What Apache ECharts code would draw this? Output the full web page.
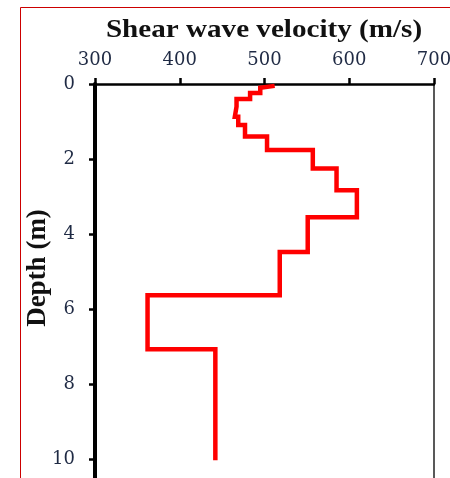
<!DOCTYPE html>
<html>
<head>
<meta charset="utf-8">
<script src="https://cdn.jsdelivr.net/npm/echarts@6/dist/echarts.min.js"></script>
<style>
  html, body { margin: 0; padding: 0; background: #fff; }
  #chart { width: 450px; height: 478px; }
</style>
</head>
<body>
<div id="chart"></div>
<script>
// shear wave velocity profile (m/s) against depth (m), step by step
const velocity = [512, 495, 495, 483, 483, 467, 467, 465, 465, 469, 469, 477, 477, 503, 503,
  557, 557, 585, 585, 609, 609, 551, 551, 518, 518, 362, 362, 442, 442];
const depth = [0.05, 0.1, 0.24, 0.24, 0.4, 0.4, 0.6, 0.6, 0.87, 0.87, 1.09, 1.09, 1.4, 1.4, 1.76,
  1.76, 2.25, 2.25, 2.83, 2.83, 3.55, 3.55, 4.48, 4.48, 5.63, 5.63, 7.07, 7.07, 10.03];
const xTicks = [300, 400, 500, 600, 700];
const yTicks = [0, 2, 4, 6, 8, 10];

const serif = "'Liberation Serif', 'DejaVu Serif', serif";
const wideSerif = "'DejaVu Serif', serif";
const labelColor = '#1f2a44';

let myChart = echarts.init(document.getElementById('chart'));

myChart.setOption({
  animation: false,
  grid: {
    left: 95,
    right: 16,
    top: 84,
    bottom: 0,
    containLabel: false,
    outerBoundsMode: 'none'
  },
  xAxis: {
    type: 'value',
    position: 'top',
    min: xTicks[0],
    max: xTicks[xTicks.length - 1],
    interval: 100,
    axisLine: { lineStyle: { color: '#000', width: 2.5 } },
    axisTick: { length: 6, lineStyle: { color: '#000', width: 2.5 } },
    splitLine: { show: false },
    axisLabel: { margin: 15, fontSize: 18, fontFamily: wideSerif, color: labelColor }
  },
  yAxis: [
    {
      type: 'value',
      inverse: true,
      min: yTicks[0],
      max: 10.5,
      interval: 2,
      axisLine: { show: true, lineStyle: { color: '#000', width: 4 } },
      axisTick: { show: true, length: 6, lineStyle: { color: '#000', width: 2.5 } },
      splitLine: { show: false },
      axisLabel: {
        margin: 20, fontSize: 18, fontFamily: wideSerif, color: labelColor,
        showMaxLabel: false
      }
    },
    {
      // right frame line only
      type: 'value',
      position: 'right',
      inverse: true,
      min: 0,
      max: 10.5,
      axisLine: { show: true, lineStyle: { color: '#222', width: 1.5 } },
      axisTick: { show: false },
      axisLabel: { show: false },
      splitLine: { show: false }
    }
  ],
  graphic: [
    {
      type: 'rect',
      shape: { x: 20.5, y: 7.5, width: 600, height: 600 },
      style: { fill: 'none', stroke: '#cc0000', lineWidth: 1 },
      silent: true
    },
    {
      type: 'text',
      x: 264,
      y: 30,
      scaleX: 1.12,
      style: {
        text: 'Shear wave velocity (m/s)',
        fontSize: 26,
        fontWeight: 'bold',
        fontFamily: serif,
        fill: '#111',
        align: 'center',
        verticalAlign: 'middle'
      }
    },
    {
      type: 'text',
      x: 38,
      y: 268,
      rotation: Math.PI / 2,
      style: {
        text: 'Depth (m)',
        fontSize: 27,
        fontWeight: 'bold',
        fontFamily: serif,
        fill: '#111',
        align: 'center',
        verticalAlign: 'middle'
      }
    }
  ],
  series: [
    {
      type: 'line',
      yAxisIndex: 0,
      data: velocity.map((v, i) => [v, depth[i]]),
      showSymbol: false,
      lineStyle: { color: '#ff0000', width: 4.5, join: 'miter' }
    }
  ]
});
</script>
</body>
</html>
